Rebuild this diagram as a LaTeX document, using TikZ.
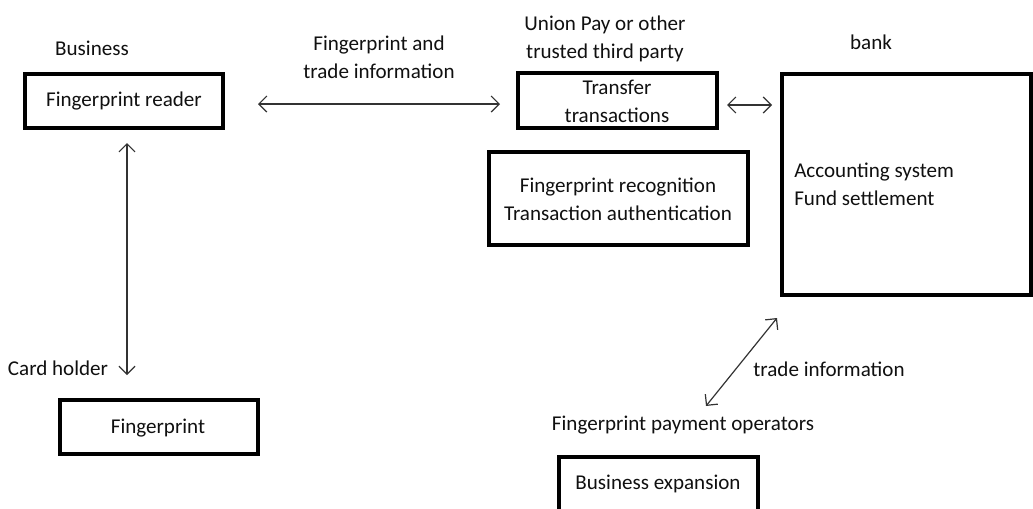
\documentclass[tikz,border=0pt]{standalone}
\usepackage{fontspec}
\setmainfont{Carlito}
\usetikzlibrary{arrows.meta}
\definecolor{ink}{HTML}{101010}
\definecolor{wire}{HTML}{333333}
\tikzset{
  box/.style={draw=black, line width=2.3pt, inner sep=0pt},
  lbl/.style={font=\fontsize{15.8}{21}\selectfont, text=ink, inner sep=0pt, align=center},
  link/.style={draw=wire, line width=0.9pt,
    {Straight Barb[length=6pt,width=12pt,line width=0.9pt]}-{Straight Barb[length=6pt,width=12pt,line width=0.9pt]}}
}
\begin{document}
\begin{tikzpicture}[x=0.75pt,y=-0.75pt]
\useasboundingbox (0,0) rectangle (1033,508);
\begin{scope}
\clip (0,0) rectangle (1033,508);

% boxes
\draw[box] (25,74) rectangle (223,128);
\node[lbl] (reader) at (124,101) {Fingerprint reader};

\draw[box] (518,73) rectangle (717,128);
\node[lbl] (transfer) at (617,101) {Transfer\\transactions};

\draw[box] (489,152) rectangle (748,245);
\node[lbl] (recog) at (618,199) {Fingerprint recognition\\Transaction authentication};

\draw[box] (782,74) rectangle (1031,295);
\node[lbl, align=left, anchor=west] (acct) at (794,184) {Accounting system\\Fund settlement};

\draw[box] (60,400) rectangle (258,454);
\node[lbl] (finger) at (158,428) {Fingerprint};

\draw[box] (559,457) rectangle (758,520);
\node[lbl] (expand) at (658,484) {Business expansion};

% captions
\node[lbl] (business) at (92,48) {Business};
\node[lbl] (tradeinfo) at (379,57) {Fingerprint and\\trade information};
\node[lbl] (union) at (605,39) {Union Pay or other\\trusted third party};
\node[lbl] (bank) at (871,42) {bank};
\node[lbl] (holder) at (58,368) {Card holder};
\node[lbl] (trade2) at (829,369) {trade information};
\node[lbl] (operators) at (683,425) {Fingerprint payment operators};

% connectors
\coordinate (h1a) at (258,104);
\coordinate (h1b) at (500,104);
\draw[link] (h1a) -- (h1b);

\coordinate (h2a) at (727,105);
\coordinate (h2b) at (772,105);
\draw[link] (h2a) -- (h2b);

\coordinate (v1a) at (127,143);
\coordinate (v1b) at (127,375);
\draw[link] (v1a) -- (v1b);

\coordinate (d1a) at (706,406);
\coordinate (d1b) at (777,318);
\draw[link] (d1a) -- (d1b);
\end{scope}
\end{tikzpicture}
\end{document}
